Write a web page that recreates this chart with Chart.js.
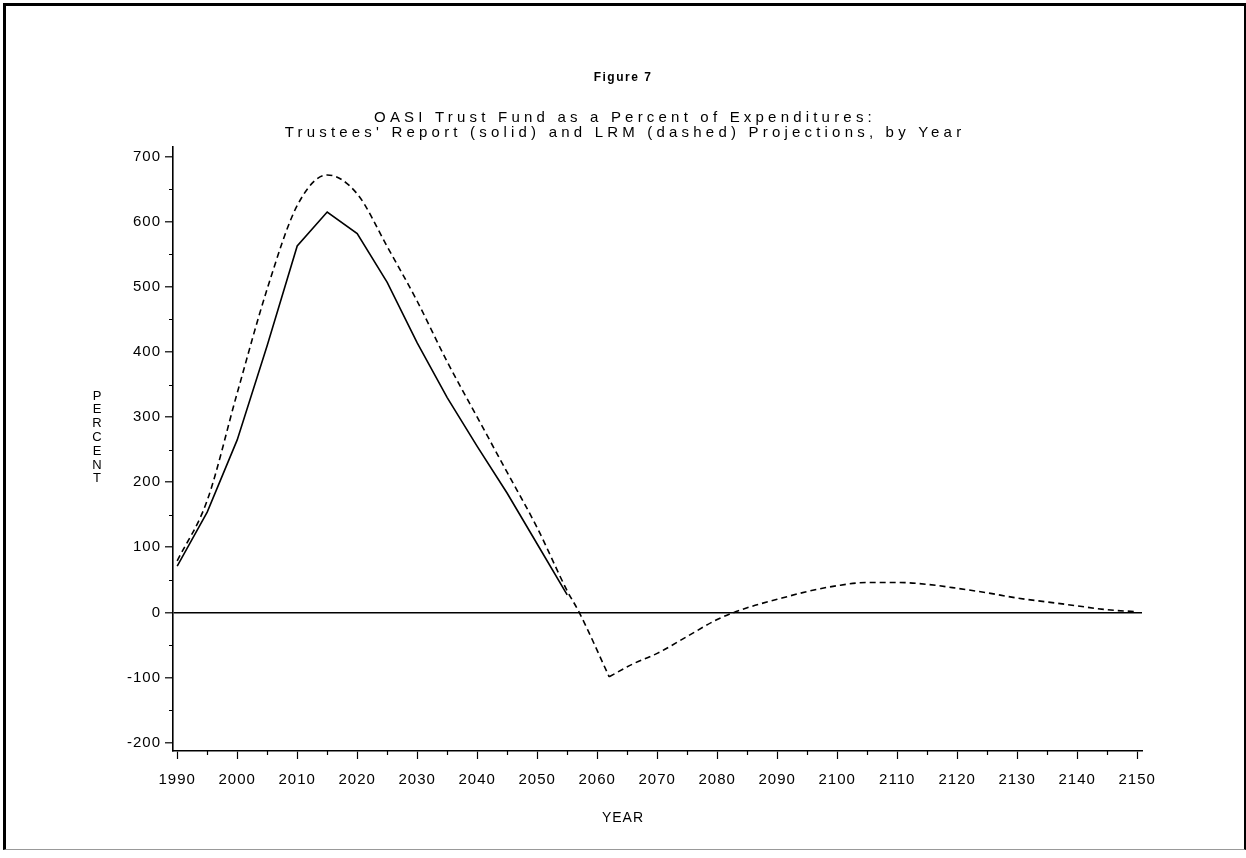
<!DOCTYPE html>
<html>
<head>
<meta charset="utf-8">
<title>Figure 7</title>
<script src="https://cdn.jsdelivr.net/npm/chart.js@4.4.1/dist/chart.umd.min.js"></script>
<style>
	html, body { margin: 0; background: #fff; }
	#wrap { position: relative; width: 1246px; height: 858px; }
	#fig7 { display: block; }
	#frame {
		position: absolute; left: 3px; top: 3px; width: 1238px; height: 843px;
		border-top: 3px solid #000; border-left: 3px solid #000;
		border-right: 2px solid #000; border-bottom: 1px solid #999;
		pointer-events: none;
	}
</style>
</head>
<body>
<div id="wrap">
	<canvas id="fig7" width="1246" height="858"></canvas>
	<div id="frame"></div>
</div>
<script>
	// Trustees' Report projection (solid)
	var trusteesYears = [1990, 1995, 2000, 2005, 2010, 2015, 2020, 2025, 2030, 2035, 2040, 2045, 2050, 2055];
	var trusteesPercent = [71, 154, 265, 410, 563, 615, 582, 507, 414, 330, 255, 183, 105, 27];

	// LRM projection (dashed)
	var lrmYears = [1990, 1995, 2000, 2005, 2010, 2015, 2020, 2025, 2030, 2035, 2040, 2045, 2050, 2055, 2057, 2062,
		2066, 2070, 2075, 2080, 2085, 2090, 2095, 2100, 2105, 2110, 2115, 2120, 2125, 2130, 2135, 2140, 2145, 2150];
	var lrmPercent = [79, 172, 337, 497, 625, 672, 643, 562, 478, 385, 300, 215, 130, 33, 0, -99,
		-79, -63, -37, -11, 7, 20, 32, 41, 46, 46, 43, 37, 30, 22, 16, 10, 4, 1];

	var xMajorTicks = [1990, 2000, 2010, 2020, 2030, 2040, 2050, 2060, 2070, 2080, 2090, 2100, 2110, 2120, 2130, 2140, 2150];
	var xMinorTicks = [1995, 2005, 2015, 2025, 2035, 2045, 2055, 2065, 2075, 2085, 2095, 2105, 2115, 2125, 2135, 2145];
	var yMajorTicks = [-200, -100, 0, 100, 200, 300, 400, 500, 600, 700];
	var yMinorTicks = [-150, -50, 50, 150, 250, 350, 450, 550, 650];

	var FONT = '"Liberation Sans", Arial, sans-serif';

	function puntos(xs, ys) {
		return xs.map(function (x, i) { return { x: x, y: ys[i] }; });
	}

	// the LRM curve has a sharp trough: draw it as two smooth pieces meeting there
	var iValle = lrmPercent.indexOf(Math.min.apply(null, lrmPercent));
	var lrmPuntos = puntos(lrmYears, lrmPercent);

	function serieLrm(data) {
		return {
			label: 'LRM',
			data: data,
			borderColor: '#000',
			borderWidth: 1.6,
			borderDash: [6, 4],
			pointRadius: 0,
			cubicInterpolationMode: 'monotone',
		};
	}

	// ticks use a little letter spacing, as in the printed figure
	var espaciado = {
		id: 'espaciado',
		beforeDraw: function (chart) {
			chart.ctx.letterSpacing = '1px';
		}
	};

	var ticksMenores = {
		id: 'ticksMenores',
		afterDraw: function (chart) {
			var ctx = chart.ctx;
			var area = chart.chartArea;
			ctx.save();
			ctx.strokeStyle = '#000';
			ctx.lineWidth = 1.2;
			ctx.beginPath();
			xMinorTicks.forEach(function (v) {
				var px = Math.round(chart.scales.x.getPixelForValue(v)) + 0.5;
				ctx.moveTo(px, area.bottom);
				ctx.lineTo(px, area.bottom + 4);
			});
			yMinorTicks.forEach(function (v) {
				var py = Math.round(chart.scales.y.getPixelForValue(v)) + 0.5;
				ctx.moveTo(area.left - 4, py);
				ctx.lineTo(area.left, py);
			});
			ctx.stroke();
			ctx.restore();
		}
	};

	var textos = {
		id: 'textos',
		afterDraw: function (chart) {
			var ctx = chart.ctx;
			ctx.save();
			ctx.fillStyle = '#000';
			ctx.textAlign = 'center';
			ctx.textBaseline = 'middle';

			ctx.letterSpacing = '1.5px';
			ctx.font = 'bold 12px ' + FONT;
			ctx.fillText('Figure 7', 623, 78);

			ctx.letterSpacing = '4.2px';
			ctx.font = '15px ' + FONT;
			ctx.fillText('OASI Trust Fund as a Percent of Expenditures:', 625, 118);
			ctx.fillText("Trustees' Report (solid) and LRM (dashed) Projections, by Year", 625, 133);

			ctx.letterSpacing = '1px';
			ctx.font = '14px ' + FONT;
			ctx.fillText('YEAR', 623, 818);

			var letras = 'PERCENT'.split('');
			ctx.letterSpacing = '0px';
			ctx.font = '13px ' + FONT;
			letras.forEach(function (l, i) {
				ctx.fillText(l, 97, 396 + i * 13.8);
			});
			ctx.restore();
		}
	};

	new Chart(document.getElementById('fig7'), {
		type: 'line',
		data: {
			datasets: [
				{
					label: "Trustees' Report",
					data: puntos(trusteesYears, trusteesPercent),
					borderColor: '#000',
					borderWidth: 1.6,
					pointRadius: 0,
					tension: 0,
				},
				serieLrm(lrmPuntos.slice(0, iValle + 1)),
				serieLrm(lrmPuntos.slice(iValle)),
			],
		},
		options: {
			responsive: false,
			animation: false,
			layout: { padding: { top: 147, right: 104, bottom: 0, left: 0 } },
			plugins: {
				legend: { display: false },
				tooltip: { enabled: false },
			},
			scales: {
				x: {
					type: 'linear',
					min: 1989.3,
					max: 2150.8,
					afterBuildTicks: function (scale) {
						scale.ticks = xMajorTicks.map(function (v) { return { value: v }; });
					},
					afterFit: function (scale) { scale.height = 107; },
					ticks: {
						autoSkip: false,
						maxRotation: 0,
						padding: 12,
						color: '#000',
						font: { family: FONT, size: 15 },
						callback: function (v) { return String(v); },
					},
					grid: { drawOnChartArea: false, tickLength: 8, tickColor: '#000', tickWidth: 1.2 },
					border: { color: '#000', width: 1.6 },
				},
				y: {
					min: -213,
					max: 715,
					afterBuildTicks: function (scale) {
						scale.ticks = yMajorTicks.map(function (v) { return { value: v }; });
					},
					afterFit: function (scale) { scale.width = 173; },
					ticks: {
						padding: 4,
						color: '#000',
						font: { family: FONT, size: 15 },
						callback: function (v) { return String(v); },
					},
					grid: {
						color: function (c) { return c.tick && c.tick.value === 0 ? '#000' : 'rgba(0,0,0,0)'; },
						lineWidth: 1.6,
						tickLength: 8,
						tickColor: '#000',
						tickWidth: 1.2,
					},
					border: { color: '#000', width: 1.6 },
				},
			},
		},
		plugins: [espaciado, ticksMenores, textos],
	});
</script>
</body>
</html>
